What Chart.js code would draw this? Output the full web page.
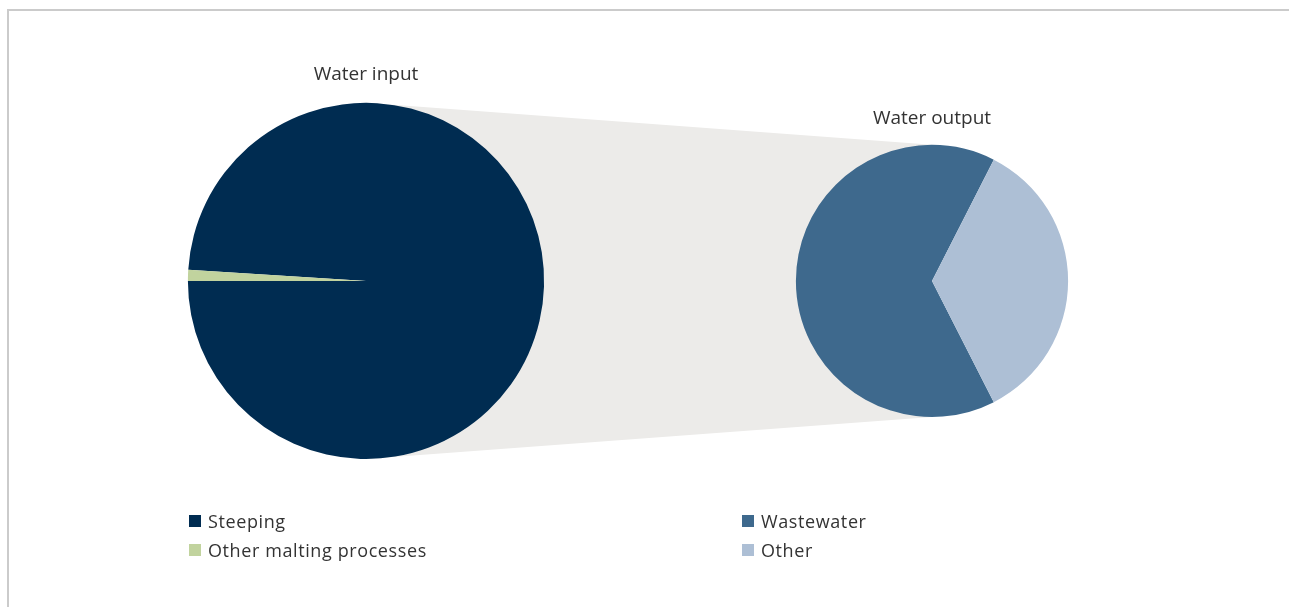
<!DOCTYPE html>
<html>
<head>
<meta charset="utf-8">
<script src="https://cdn.jsdelivr.net/npm/chart.js@4/dist/chart.umd.min.js"></script>
<style>
    body { margin: 0; background: #fff; font-family: "Open Sans", sans-serif; }
    #wrap { position: relative; width: 1289px; height: 607px; overflow: hidden; }
    #frame { position: absolute; left: 7px; top: 9px; right: -5px; bottom: -5px;
             border-top: 2px solid #cbcbcb; border-left: 2px solid #cbcbcb; }
    #inputCanvas { position: absolute; left: 0; top: 0; }
    #outputCanvas { position: absolute; left: 782px; top: 0; }
    .legend { position: absolute; top: 506px; font-size: 18px; letter-spacing: 0.6px; color: #333; }
    .legend div { height: 29px; display: flex; align-items: center; }
    .legend span.box { display: inline-block; width: 12px; height: 12px; margin-right: 7px; }
</style>
</head>
<body>
<div id="wrap">
    <div id="frame"></div>
    <canvas id="inputCanvas" width="1289" height="607"></canvas>
    <canvas id="outputCanvas" width="300" height="607"></canvas>
    <div class="legend" id="inputLegend" style="left:189px"></div>
    <div class="legend" id="outputLegend" style="left:742px"></div>
</div>
<script>
const inputLabels = ['Steeping', 'Other malting processes'];
const inputValues = [99, 1];
const inputColors = ['#002c51', '#c1d39e'];

const outputLabels = ['Wastewater', 'Other'];
const outputValues = [65, 35];
const outputColors = ['#3e698d', '#adbfd5'];

const titleFont = { family: 'Open Sans', size: 19, weight: 'normal', lineHeight: 1.2 };

function buildLegend(id, labels, colors) {
    const el = document.getElementById(id);
    labels.forEach((l, i) => {
        const row = document.createElement('div');
        row.innerHTML = `<span class="box" style="background:${colors[i]}"></span>${l}`;
        el.appendChild(row);
    });
}
buildLegend('inputLegend', inputLabels, inputColors);
buildLegend('outputLegend', outputLabels, outputColors);

const outputChart = new Chart(document.getElementById('outputCanvas'), {
    type: 'pie',
    data: {
        labels: outputLabels,
        datasets: [{ data: outputValues, backgroundColor: outputColors, borderWidth: 0 }]
    },
    options: {
        responsive: false,
        animation: false,
        rotation: 153,
        layout: { padding: { top: 107, bottom: 190, left: 0, right: 0 } },
        plugins: {
            legend: { display: false },
            tooltip: { enabled: false },
            title: { display: true, text: 'Water output', color: '#333', font: titleFont,
                     padding: { top: 0, bottom: 15 } }
        }
    }
});

// grey band joining the two pies, drawn behind the input pie
const bandPlugin = {
    id: 'band',
    beforeDatasetsDraw(chart) {
        const a = chart.getDatasetMeta(0).data[0];
        const b = outputChart.getDatasetMeta(0).data[0];
        const off = 782; // left of output canvas
        const ctx = chart.ctx;
        ctx.save();
        ctx.fillStyle = '#ecebe9';
        ctx.beginPath();
        ctx.moveTo(a.x, a.y - a.outerRadius);
        ctx.lineTo(b.x + off, b.y - b.outerRadius);
        ctx.lineTo(b.x + off, b.y + b.outerRadius);
        ctx.lineTo(a.x, a.y + a.outerRadius);
        ctx.closePath();
        ctx.fill();
        ctx.restore();
    }
};

new Chart(document.getElementById('inputCanvas'), {
    type: 'pie',
    data: {
        labels: inputLabels,
        datasets: [{ data: inputValues, backgroundColor: inputColors, borderWidth: 0 }]
    },
    options: {
        responsive: false,
        animation: false,
        rotation: 273.6,
        layout: { padding: { top: 63, bottom: 148, left: 0, right: 557 } },
        plugins: {
            legend: { display: false },
            tooltip: { enabled: false },
            title: { display: true, text: 'Water input', color: '#333', font: titleFont,
                     padding: { top: 0, bottom: 17 } }
        }
    },
    plugins: [bandPlugin]
});
</script>
</body>
</html>
